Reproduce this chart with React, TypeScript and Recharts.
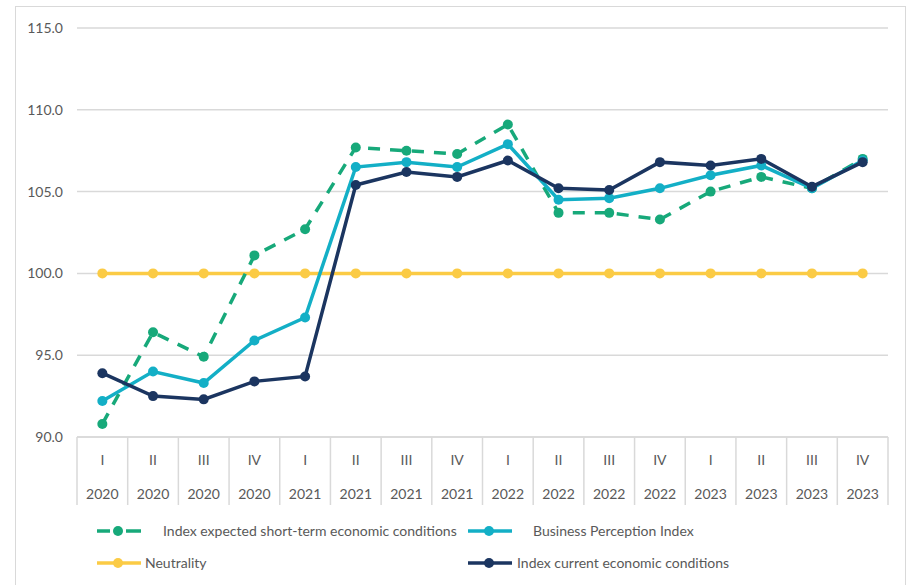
import { LineChart, Line, XAxis, YAxis, CartesianGrid } from 'recharts';

const quarters = ['I', 'II', 'III', 'IV', 'I', 'II', 'III', 'IV', 'I', 'II', 'III', 'IV', 'I', 'II', 'III', 'IV'];
const years = ['2020', '2020', '2020', '2020', '2021', '2021', '2021', '2021', '2022', '2022', '2022', '2022', '2023', '2023', '2023', '2023'];

const expected = [90.8, 96.4, 94.9, 101.1, 102.7, 107.7, 107.5, 107.3, 109.1, 103.7, 103.7, 103.3, 105.0, 105.9, 105.2, 107.0];
const perception = [92.2, 94.0, 93.3, 95.9, 97.3, 106.5, 106.8, 106.5, 107.9, 104.5, 104.6, 105.2, 106.0, 106.6, 105.2, 106.9];
const neutrality = [100, 100, 100, 100, 100, 100, 100, 100, 100, 100, 100, 100, 100, 100, 100, 100];
const current = [93.9, 92.5, 92.3, 93.4, 93.7, 105.4, 106.2, 105.9, 106.9, 105.2, 105.1, 106.8, 106.6, 107.0, 105.3, 106.8];

const yTicks = [90, 95, 100, 105, 110, 115];

const GREEN = '#17a97a';
const BLUE = '#13afc6';
const YELLOW = '#fbcb45';
const NAVY = '#1b3560';
const GRID = '#d9d9d9';
const TEXT = '#595959';
const FONT = 'Lato, "Open Sans", sans-serif';

const data = quarters.map((q, i) => ({
  key: `${q}-${years[i]}`,
  q,
  year: years[i],
  expected: expected[i],
  perception: perception[i],
  neutrality: neutrality[i],
  current: current[i],
}));

function QuarterTick(props: any) {
  const { x, y, index, payload, width, visibleTicksCount } = props;
  const count = visibleTicksCount || data.length;
  const step = (width || 811) / count;
  const row = data[index] || data.find((d) => d.key === payload.value);
  return (
    <g>
      <line x1={x - step / 2} x2={x - step / 2} y1={y} y2={y + 68} stroke={GRID} strokeWidth={1.5} />
      {index === count - 1 && (
        <line x1={x + step / 2} x2={x + step / 2} y1={y} y2={y + 68} stroke={GRID} strokeWidth={1.5} />
      )}
      <text x={x} y={y + 28} textAnchor="middle" fill={TEXT} fontSize={14} fontFamily={FONT}>{row?.q}</text>
      <text x={x} y={y + 62} textAnchor="middle" fill={TEXT} fontSize={14} fontFamily={FONT}>{row?.year}</text>
    </g>
  );
}

function LegendIcon({ color, dashed }: { color: string; dashed?: boolean }) {
  return (
    <svg width={46} height={12} style={{ display: 'block' }}>
      {dashed ? (
        <>
          <line x1={1} x2={14} y1={6} y2={6} stroke={color} strokeWidth={3.5} />
          <line x1={30} x2={45} y1={6} y2={6} stroke={color} strokeWidth={3.5} />
        </>
      ) : (
        <line x1={1} x2={45} y1={6} y2={6} stroke={color} strokeWidth={3.5} />
      )}
      <circle cx={22} cy={6} r={5} fill={color} />
    </svg>
  );
}

const legendItems = [
  { name: 'Index expected short-term economic conditions', color: GREEN, dashed: true, left: 96, top: 525, textLeft: 163 },
  { name: 'Business Perception Index', color: BLUE, dashed: false, left: 467, top: 525, textLeft: 533 },
  { name: 'Neutrality', color: YELLOW, dashed: false, left: 96, top: 557, textLeft: 145 },
  { name: 'Index current economic conditions', color: NAVY, dashed: false, left: 467, top: 557, textLeft: 517 },
];

export default function App() {
  return (
    <div style={{ position: 'absolute', left: 0, top: 0, width: 909, height: 585, background: '#fff', overflow: 'hidden', fontFamily: FONT }}>
      <div style={{ position: 'absolute', left: 15, top: 6, width: 891, height: 620, border: `1px solid ${GRID}`, boxSizing: 'border-box' }} />
      <div style={{ position: 'absolute', left: 0, top: 0 }}>
        <LineChart width={909} height={585} data={data} margin={{ top: 28, right: 21, left: 17, bottom: 80 }}>
          <CartesianGrid vertical={false} stroke={GRID} strokeWidth={1.5} />
          <XAxis
            dataKey="key"
            scale="band"
            interval={0}
            height={68}
            tickSize={0}
            tickMargin={0}
            tickLine={false}
            axisLine={{ stroke: GRID, strokeWidth: 1.5 }}
            tick={<QuarterTick />}
          />
          <YAxis
            domain={[90, 115]}
            ticks={yTicks}
            width={60}
            tickSize={0}
            tickMargin={14}
            axisLine={false}
            tickLine={false}
            tickFormatter={(v: number) => v.toFixed(1)}
            tick={{ fill: TEXT, fontSize: 14, fontFamily: FONT }}
          />
          <Line dataKey="neutrality" stroke={YELLOW} strokeWidth={3.5} dot={{ r: 5, fill: YELLOW, stroke: YELLOW, strokeWidth: 0 }} isAnimationActive={false} />
          <Line dataKey="expected" stroke={GREEN} strokeWidth={3.5} strokeDasharray="12 10" dot={{ r: 5, fill: GREEN, stroke: GREEN, strokeWidth: 0 }} isAnimationActive={false} />
          <Line dataKey="perception" stroke={BLUE} strokeWidth={3.5} dot={{ r: 5, fill: BLUE, stroke: BLUE, strokeWidth: 0 }} isAnimationActive={false} />
          <Line dataKey="current" stroke={NAVY} strokeWidth={3.5} dot={{ r: 5, fill: NAVY, stroke: NAVY, strokeWidth: 0 }} isAnimationActive={false} />
        </LineChart>
      </div>
      {legendItems.map((item) => (
        <div key={item.name}>
          <div style={{ position: 'absolute', left: item.left, top: item.top }}>
            <LegendIcon color={item.color} dashed={item.dashed} />
          </div>
          <div style={{ position: 'absolute', left: item.textLeft, top: item.top - 4, fontSize: 14, color: TEXT, whiteSpace: 'nowrap', lineHeight: '20px' }}>
            {item.name}
          </div>
        </div>
      ))}
    </div>
  );
}
